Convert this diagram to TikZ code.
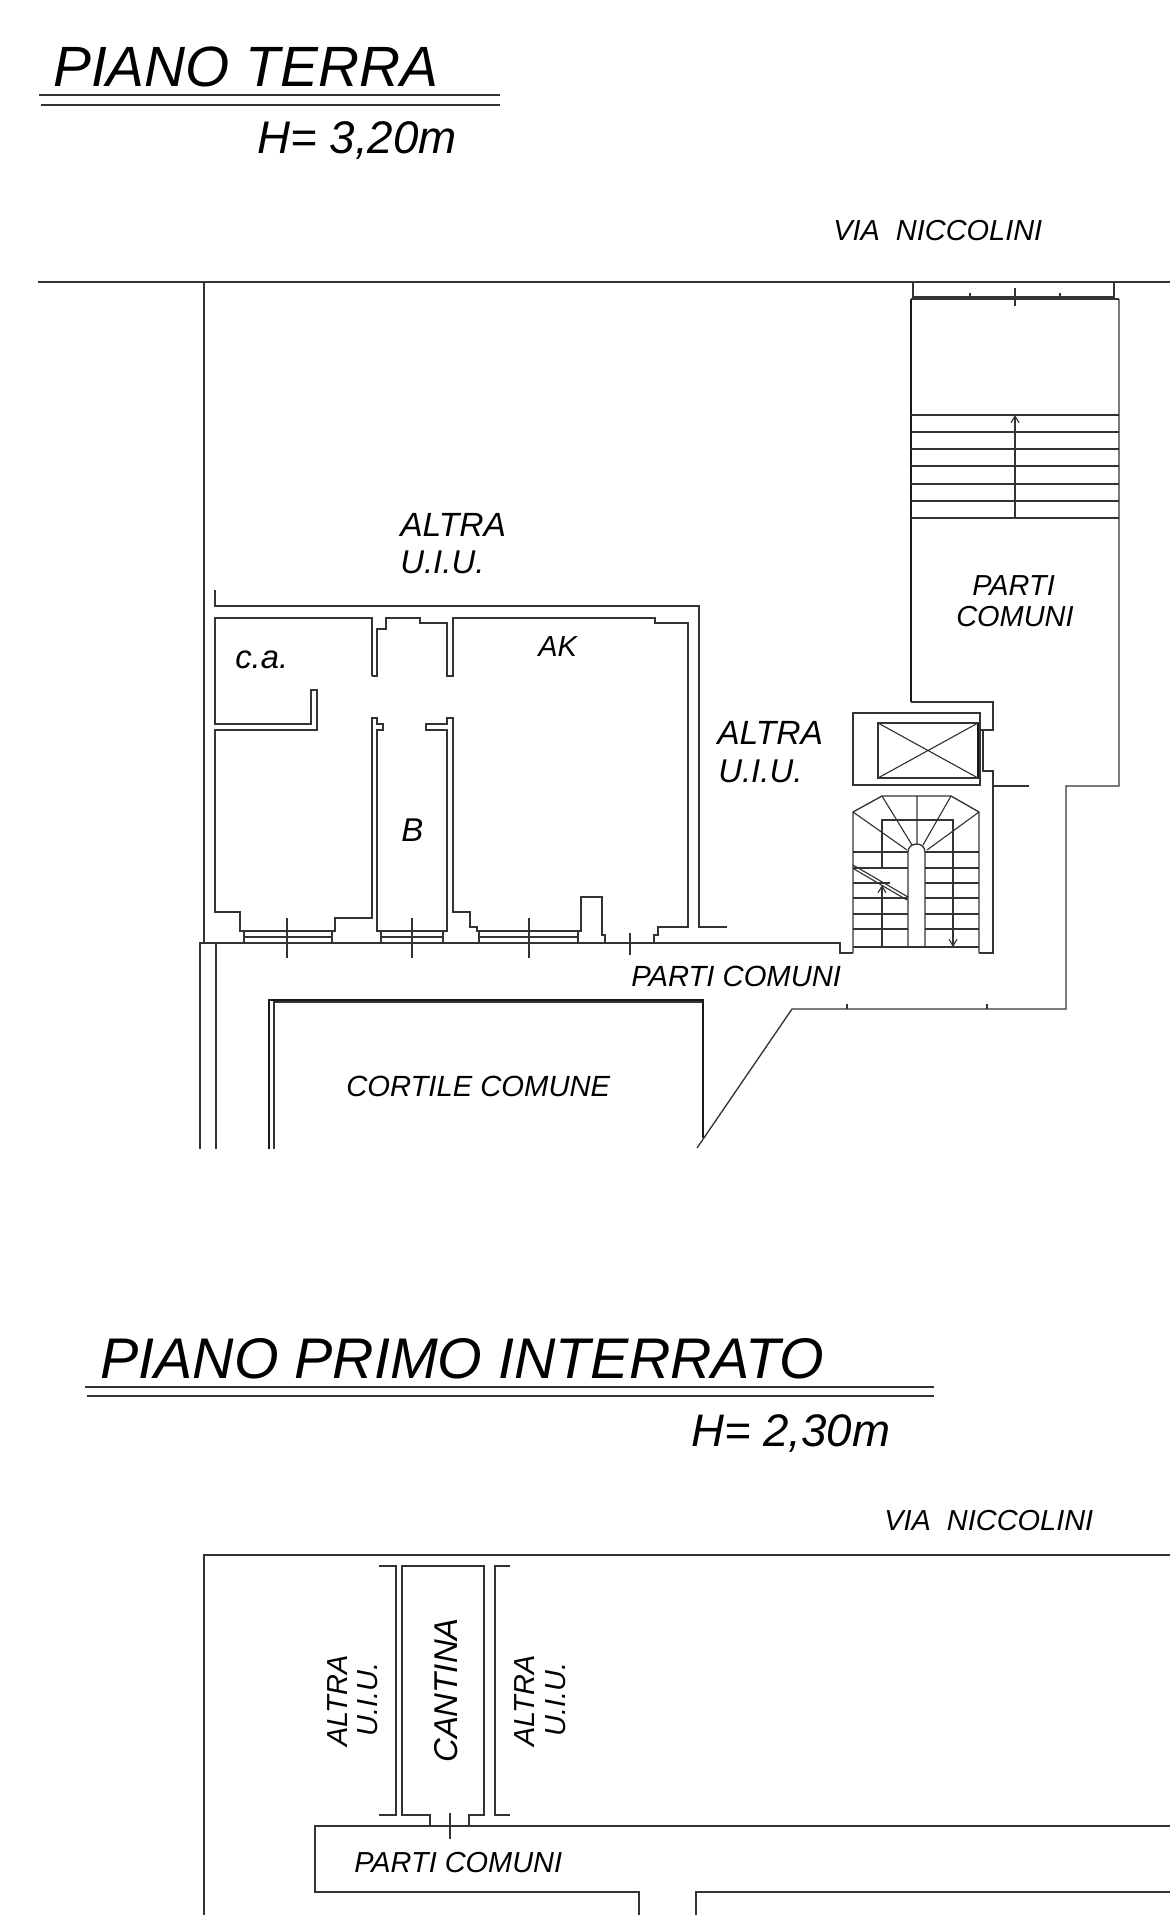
\documentclass[tikz,border=0pt]{standalone}
\usepackage{fontspec}
\setmainfont{Liberation Sans}
\usepackage{tikz}
\usetikzlibrary{arrows.meta}

\begin{document}
\begin{tikzpicture}[
    x=0.75pt, y=-0.75pt,
    wall/.style={draw=black!80, line width=1pt},
    heavy/.style={draw=black!90, line width=1.5pt},
    thin wall/.style={draw=black!80, line width=0.85pt},
    arr/.style={-{Straight Barb[length=5pt,width=6pt]}, draw=black!80, line width=0.85pt},
    lab/.style={font=\fontsize{#1}{#1}\selectfont\itshape, inner sep=0pt, anchor=base west},
    vlab/.style={lab=#1, rotate=90}
  ]
  \useasboundingbox (0,0) rectangle (1170,1915);
  % Titles, upper plan
  \node[lab=42.6] (titleT) at (53,87) {PIANO TERRA};
  \draw[wall] (39,95) -- (500,95);
  \draw[wall, line width=1.2pt] (41,105) -- (500,105);
  \node[lab=34.3] (heightT) at (257,154) {H= 3,20m};
  \node[lab=21.7] (viaT) at (833,241) {VIA\ \ NICCOLINI};
  % Street and outer walls
  \draw[wall] (38,282) -- (1170,282);
  \draw[wall] (204,282) -- (204,943);
  \draw[wall] (200,1149) -- (200,943) -- (840,943) -- (840,953) -- (853,953);
  \draw[wall] (216,943) -- (216,1149);
  \draw[wall] (215,590) -- (215,606) -- (699,606) -- (699,927) -- (727,927);
  % Rooms
  \draw[wall] (372,676) -- (372,618) -- (215,618) -- (215,724) -- (311,724) -- (311,690)
    -- (317,690) -- (317,730) -- (215,730) -- (215,912) -- (240,912) -- (240,931)
    -- (335,931) -- (335,918) -- (372,918) -- (372,718) -- (377,718) -- (377,724)
    -- (383,724) -- (383,730) -- (377,730) -- (377,931) -- (447,931) -- (447,730)
    -- (426,730) -- (426,724) -- (447,724) -- (447,718) -- (453,718) -- (453,912)
    -- (470,912) -- (470,927) -- (477,927) -- (477,931) -- (581,931) -- (581,897)
    -- (602,897) -- (602,935) -- (605,935) -- (605,943);
  \draw[wall] (372,676) -- (377,676) -- (377,629) -- (386,629) -- (386,618) -- (420,618)
    -- (420,623) -- (447,623) -- (447,676) -- (453,676) -- (453,618) -- (655,618)
    -- (655,623) -- (688,623) -- (688,927) -- (658,927) -- (658,935) -- (654,935) -- (654,943);
  % Windows and door ticks
  \draw[wall] (244,931) -- (244,943) (332,931) -- (332,943) (244,937) -- (332,937);
  \draw[wall] (381,931) -- (381,943) (443,931) -- (443,943) (381,937) -- (443,937);
  \draw[wall] (479,931) -- (479,943) (578,931) -- (578,943) (479,937) -- (578,937);
  \draw[wall] (287,918) -- (287,958) (412,918) -- (412,958) (529,918) -- (529,958);
  \draw[wall] (630,933) -- (630,955);
  % Courtyard
  \draw[heavy] (269,1149) -- (269,1000) -- (703,1000) -- (703,1138);
  \draw[thin wall] (274,1149) -- (274,1002) -- (703,1002);
  \draw[wall] (697,1148) -- (792,1009) -- (1066,1009) -- (1066,786) -- (1119,786) -- (1119,299);
  \draw[thin wall] (847,1004) -- (847,1009) (987,1004) -- (987,1009);
  % Entrance and upper stair
  \draw[heavy] (911,299) -- (911,702);
  \draw[wall] (911,299) -- (1119,299);
  \draw[wall] (911,702) -- (993,702) -- (993,730) -- (980,730);
  \draw[wall] (913,282) -- (913,297) -- (1114,297) -- (1114,282);
  \draw[wall] (970,293) -- (970,300) (1060,293) -- (1060,300);
  \draw[wall] (1015,288) -- (1015,306);
  \draw[thin wall] (911,415) -- (1119,415) (911,432) -- (1119,432) (911,449) -- (1119,449)
    (911,466) -- (1119,466) (911,484) -- (1119,484) (911,501) -- (1119,501) (911,518) -- (1119,518);
  \draw[arr] (1015,518) -- (1015,415);
  % Lift
  \draw[wall] (853,713) rectangle (980,785);
  \draw[wall] (878,723) rectangle (978,778);
  \draw[heavy] (978,723) -- (978,778);
  \draw[thin wall] (878,723) -- (978,778) (878,778) -- (978,723);
  \draw[thin wall] (983,730) -- (983,771);
  \draw[wall] (982,771) -- (993,771) -- (993,953) -- (979,953);
  \draw[wall] (993,786) -- (1029,786);
  % Lower stair
  \draw[wall] (853,953) -- (853,812) -- (882,796) -- (951,796) -- (979,812) -- (979,953);
  \draw[wall] (882,868) -- (882,820) -- (953,820) -- (953,947);
  \draw[wall] (882,887) -- (882,947);
  \draw[wall] (908,947) -- (908,852) .. controls (908,847) and (912,844) .. (917,844)
    .. controls (921,844) and (925,847) .. (925,852) -- (925,947);
  \draw[thin wall] (853,812) -- (907,850) (882,796) -- (912,845) (917,796) -- (917,844)
    (951,796) -- (923,845) (979,812) -- (927,850);
  \draw[thin wall] (853,852) -- (908,852) (925,852) -- (979,852);
  \draw[thin wall] (853,868) -- (908,868) (925,868) -- (979,868);
  \draw[thin wall] (853,883) -- (890,883) (925,883) -- (979,883);
  \draw[thin wall] (853,898) -- (908,898) (925,898) -- (979,898);
  \draw[thin wall] (853,914) -- (908,914) (925,914) -- (979,914);
  \draw[thin wall] (853,929) -- (908,929) (925,929) -- (979,929);
  \draw[wall] (853,947) -- (979,947);
  \draw[thin wall] (853,865) -- (908,897) (854,869) -- (907,900);
  \draw[arr] (882,900) -- (882,885);
  \draw[arr] (953,930) -- (953,947);
  % Labels, upper plan
  \node[lab=25.2] (altraA) at (400,536) {ALTRA};
  \node[lab=24.7] (uiuA) at (400,573) {U.I.U.};
  \node[lab=25.2] (altraB) at (717,744) {ALTRA};
  \node[lab=24.7] (uiuB) at (718,782) {U.I.U.};
  \node[lab=21.7] (partiA) at (972,595) {PARTI};
  \node[lab=21.7] (comuniA) at (956,626) {COMUNI};
  \node[lab=21.7] (ak) at (538,656) {AK};
  \node[lab=24.6] (ca) at (235,668) {c.a.};
  \node[lab=24.7] (bagno) at (401,841) {B};
  \node[lab=21.9] (partiB) at (631,986) {PARTI COMUNI};
  \node[lab=21.9] (cortile) at (346,1096) {CORTILE COMUNE};
  % Titles, lower plan
  \node[lab=43] (titleI) at (100,1378) {PIANO PRIMO INTERRATO};
  \draw[wall] (85,1387) -- (934,1387);
  \draw[wall, line width=1.2pt] (87,1396) -- (934,1396);
  \node[lab=34.2] (heightI) at (691,1446) {H= 2,30m};
  \node[lab=21.7] (viaI) at (884,1530) {VIA\ \ NICCOLINI};
  % Lower plan
  \draw[wall] (204,1915) -- (204,1555) -- (1170,1555);
  \draw[wall] (379,1566) -- (396,1566) -- (396,1815) -- (379,1815);
  \draw[wall] (510,1566) -- (495,1566) -- (495,1815) -- (510,1815);
  \draw[wall] (430,1826) -- (430,1815) -- (402,1815) -- (402,1566) -- (484,1566)
    -- (484,1815) -- (469,1815) -- (469,1826);
  \draw[wall] (1170,1826) -- (315,1826) -- (315,1892) -- (639,1892) -- (639,1915);
  \draw[wall] (696,1915) -- (696,1892) -- (1170,1892);
  \draw[wall] (450,1813) -- (450,1839);
  % Labels, lower plan
  \node[vlab=21.7] (altraC) at (347,1747) {ALTRA};
  \node[vlab=21.7] (uiuC) at (377,1737) {U.I.U.};
  \node[vlab=24.7] (cantina) at (457,1763) {CANTINA};
  \node[vlab=21.7] (altraD) at (534,1747) {ALTRA};
  \node[vlab=21.7] (uiuD) at (565,1737) {U.I.U.};
  \node[lab=21.7] (partiC) at (354,1872) {PARTI COMUNI};
\end{tikzpicture}
\end{document}
